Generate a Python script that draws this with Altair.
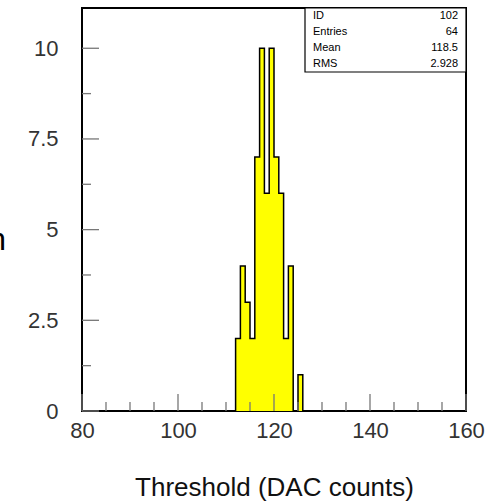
import altair as alt
import pandas as pd

# ---- data ----
bin_lo = [112, 113, 114, 115, 116, 117, 118, 119, 120, 121, 122, 123, 124, 125]
counts = [2, 4, 3, 2, 7, 10, 6, 10, 7, 6, 2, 4, 0, 1]
bin_width = 1
x_major = [80, 100, 120, 140, 160]
x_minor = [85, 90, 95, 105, 110, 115, 125, 130, 135, 145, 150, 155]
y_major = [0, 2.5, 5, 7.5, 10]
y_minor = [1.25, 3.75, 6.25, 8.75]
stat_names = ["ID", "Entries", "Mean", "RMS"]
stat_values = ["102", "64", "118.5", "2.928"]

W, H = 384, 403
FONT = "Liberation Sans"

# area (step-after)
area_df = pd.DataFrame({
    "x": bin_lo + [bin_lo[-1] + bin_width],
    "y": counts + [0],
})

# outline of histogram
ox, oy = [bin_lo[0]], [0]
for lo, c in zip(bin_lo, counts):
    ox += [lo, lo + bin_width]
    oy += [c, c]
ox.append(bin_lo[-1] + bin_width)
oy.append(0)
outline_df = pd.DataFrame({"x": ox, "y": oy, "i": list(range(len(ox)))})

xscale = alt.Scale(domain=[80, 160], nice=False, zero=False)
yscale = alt.Scale(domain=[0, 11.11], nice=False)

xaxis = alt.Axis(values=x_major, format="d", ticks=False, domain=False, grid=False,
                 labelFlush=False,
                 labelFont=FONT, labelFontSize=22, labelColor="#333333", labelPadding=9,
                 title="Threshold (DAC counts)", titleFont=FONT, titleFontSize=26,
                 titleFontWeight="normal", titleColor="#111111",
                 titleY=84, titleBaseline="alphabetic")
yaxis = alt.Axis(values=y_major, format="~g", ticks=False, domain=False, grid=False,
                 labelFlush=False,
                 labelFont=FONT, labelFontSize=22, labelColor="#333333", labelPadding=24,
                 title=None)

area = alt.Chart(area_df).mark_area(interpolate="step-after", color="#ffff00").encode(
    x=alt.X("x:Q", scale=xscale, axis=xaxis),
    y=alt.Y("y:Q", scale=yscale, axis=yaxis),
)
outline = alt.Chart(outline_df).mark_line(color="black", strokeWidth=1.5).encode(
    x=alt.X("x:Q", scale=xscale),
    y=alt.Y("y:Q", scale=yscale),
    order="i:Q",
)

def xticks(vals, length):
    return alt.Chart(pd.DataFrame({"v": vals})).mark_rule(color="#777777", strokeWidth=1.3).encode(
        x=alt.X("v:Q", scale=xscale), y=alt.value(H), y2=alt.value(H - length))

def yticks(vals, length):
    return alt.Chart(pd.DataFrame({"v": vals})).mark_rule(color="#777777", strokeWidth=1.3).encode(
        y=alt.Y("v:Q", scale=yscale), x=alt.value(0), x2=alt.value(length))

# stats box
box = alt.Chart(pd.DataFrame({"a": [0]})).mark_rect(fill="white", stroke="black", strokeWidth=1.2).encode(
    x=alt.value(223), x2=alt.value(W), y=alt.value(0), y2=alt.value(64))
row_y = [8, 24, 40, 55.5]
stat_layers = []
for nm, val, yy in zip(stat_names, stat_values, row_y):
    stat_layers.append(alt.Chart(pd.DataFrame({"t": [nm]})).mark_text(
        align="left", baseline="middle", font=FONT, fontSize=11, color="black").encode(
        text="t:N", x=alt.value(231), y=alt.value(yy)))
    stat_layers.append(alt.Chart(pd.DataFrame({"t": [val]})).mark_text(
        align="right", baseline="middle", font=FONT, fontSize=11, color="black").encode(
        text="t:N", x=alt.value(376), y=alt.value(yy)))

# clipped left text fragment (as in the reference)
frag = alt.Chart(pd.DataFrame({"t": ["n"]})).mark_text(
    align="right", baseline="alphabetic", font=FONT, fontSize=32, color="black").encode(
    text="t:N", x=alt.value(-76), y=alt.value(242))

chart = alt.layer(
    area, outline,
    xticks(x_major, 17), xticks(x_minor, 9),
    yticks(y_major, 17), yticks(y_minor, 9),
    box, *stat_layers, frag,
).properties(
    width=W, height=H,
    autosize=alt.AutoSizeParams(type="none"),
    padding={"left": 82, "top": 8, "right": 36, "bottom": 91},
).configure_view(stroke="black", strokeWidth=2)

chart.save("out.html", embed_options={"renderer": "svg", "actions": False})
